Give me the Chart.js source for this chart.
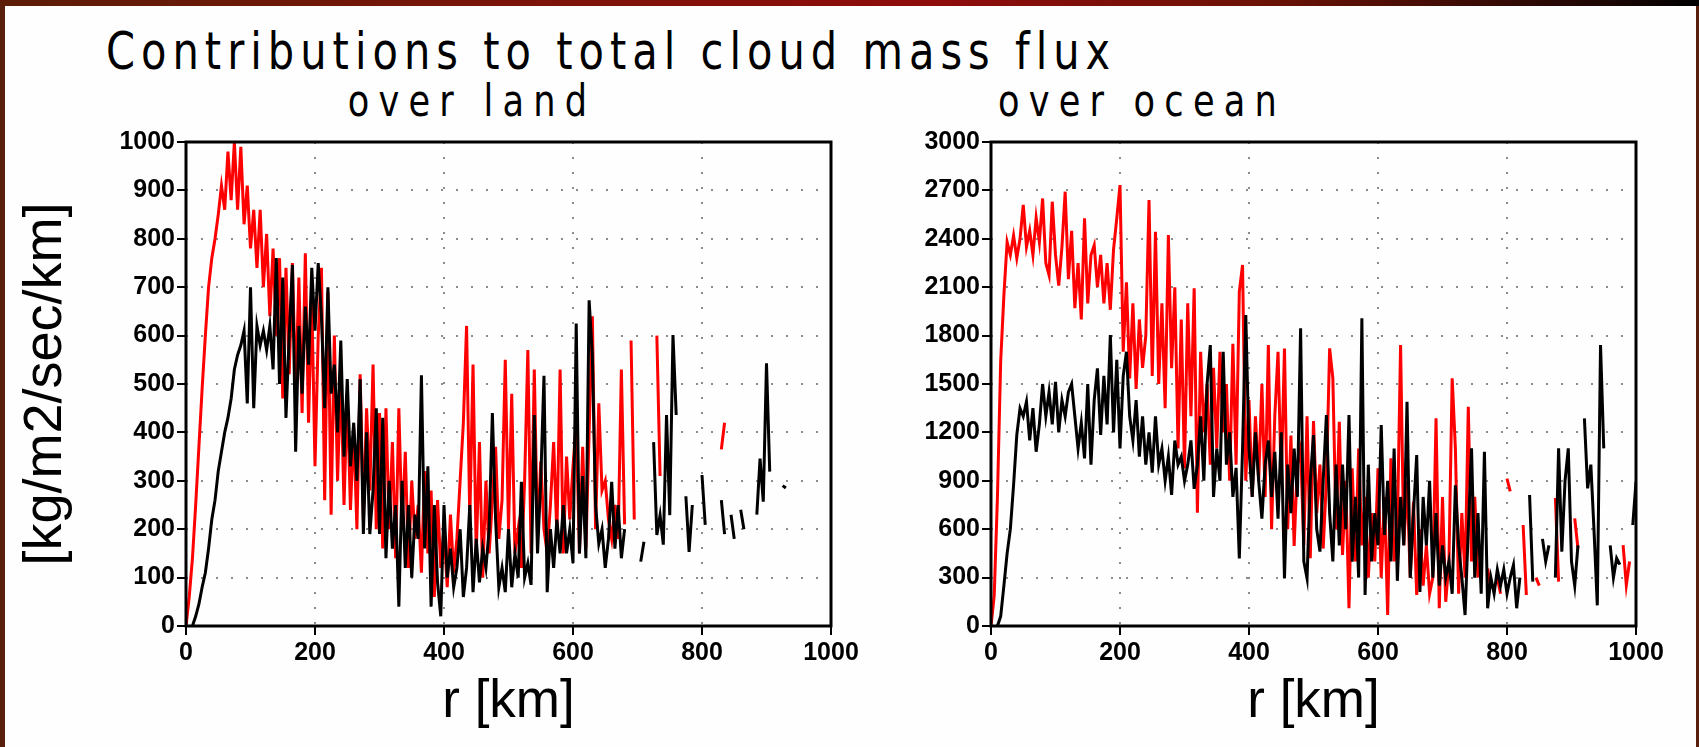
<!DOCTYPE html>
<html>
<head>
<meta charset="utf-8">
<title>Contributions to total cloud mass flux</title>
<script src="https://cdn.jsdelivr.net/npm/chart.js@4.4.1/dist/chart.umd.min.js"></script>
<style>
  html, body { margin: 0; padding: 0; }
  body { width: 1699px; height: 747px; overflow: hidden; position: relative; background: #5a1e0c; }
  #topband { position: absolute; left: 0; top: 0; width: 1699px; height: 6px;
    background: linear-gradient(to right, #5c1d08 0%, #7a1408 30%, #8e0c0c 55%, #6a1206 75%, #1a0604 95%, #000 100%); }
  #sheet { position: absolute; left: 5px; top: 6px; width: 1691px; height: 741px; background: #fefefe; }
  .ttl { position: absolute; color: #000; white-space: nowrap; line-height: 1;
    font-family: "DejaVu Sans", sans-serif; }
  #main { left: 106px; top: 25px; font-size: 52px; letter-spacing: 7.5px;
    transform: scaleX(0.8); transform-origin: 0 0; }
  .sub { top: 79px; width: 400px; text-align: center; font-size: 44px; letter-spacing: 11.5px;
    transform: scaleX(0.8); transform-origin: 50% 0; }
  canvas { position: absolute; top: 125px; }
</style>
</head>
<body>
<div id="topband"></div>
<div id="sheet"></div>
<div id="main" class="ttl">Contributions to total cloud mass flux</div>
<div class="ttl sub" style="left:272px">over land</div>
<div class="ttl sub" style="left:942px">over ocean</div>
<canvas id="landChart" width="900" height="622" style="left:0px"></canvas>
<canvas id="oceanChart" width="869" height="622" style="left:830px"></canvas>
<script>
// radius of each sample (km)
const rKm = [
  0, 5, 10, 15, 20, 25, 30, 35, 40, 45, 50, 55, 60, 65, 70, 75, 80, 85, 90, 95,
  100, 105, 110, 115, 120, 125, 130, 135, 140, 145, 150, 155, 160, 165, 170, 175, 180, 185, 190, 195,
  200, 205, 210, 215, 220, 225, 230, 235, 240, 245, 250, 255, 260, 265, 270, 275, 280, 285, 290, 295,
  300, 305, 310, 315, 320, 325, 330, 335, 340, 345, 350, 355, 360, 365, 370, 375, 380, 385, 390, 395,
  400, 405, 410, 415, 420, 425, 430, 435, 440, 445, 450, 455, 460, 465, 470, 475, 480, 485, 490, 495,
  500, 505, 510, 515, 520, 525, 530, 535, 540, 545, 550, 555, 560, 565, 570, 575, 580, 585, 590, 595,
  600, 605, 610, 615, 620, 625, 630, 635, 640, 645, 650, 655, 660, 665, 670, 675, 680, 685, 690, 695,
  700, 705, 710, 715, 720, 725, 730, 735, 740, 745, 750, 755, 760, 765, 770, 775, 780, 785, 790, 795,
  800, 805, 810, 815, 820, 825, 830, 835, 840, 845, 850, 855, 860, 865, 870, 875, 880, 885, 890, 895,
  900, 905, 910, 915, 920, 925, 930, 935, 940, 945, 950, 955, 960, 965, 970, 975, 980, 985, 990, 995,
  1000
];

// over land, red curve (kg/m2/sec/km)
const landRed = [
  0, 60, 140, 250, 370, 490, 600, 700, 760, 800,
  850, 910, 860, 980, 880, 1000, 860, 990, 830, 910,
  780, 860, 740, 860, 700, 810, 640, 780, 600, 760,
  470, 740, 520, 750, 480, 720, 440, 770, 420, 680,
  330, 600, 740, 260, 690, 230, 600, 300, 520, 250,
  480, 240, 410, 200, 520, 220, 450, 280, 540, 200,
  440, 160, 450, 200, 380, 140, 450, 200, 360, 120,
  300, 180, 250, 110, 320, 150, 280, 60, 260, 120,
  200, 80, 230, 110, 180, 300, 420, 620, 220, 540,
  150, 380, 100, 300, 150, 260, 370, 180, 260, 550,
  200, 480, 150, 200, 120, 300, 570, 150, 530, 180,
  340, 200, 150, 250, 380, 190, 530, 150, 350, 220,
  330, 420, 150, 370, 160, 400, 640, 200, 460, 280,
  300, 220, 180, 250, 180, 530, 210, null, 590, 220,
  null, null, null, null, null, null, 600, 310, null, null,
  null, null, null, null, null, null, null, null, null, null,
  null, null, null, null, null, null, 365, 420, null, null,
  null, null, null, null, null, null, null, null, null, null,
  null, null, null, null, null, null, null, null, null, null,
  null, null, null, null, null, null, null, null, null, null,
  null
];

// over land, black curve
const landBlack = [
  null, null, 0, 20, 45, 80, 110, 160, 220, 260,
  320, 360, 400, 430, 470, 530, 560, 580, 610, 460,
  700, 450, 620, 580, 610, 570, 620, 530, 760, 500,
  720, 430, 600, 746, 360, 620, 480, 660, 540, 740,
  610, 750, 640, 450, 700, 480, 540, 400, 590, 350,
  510, 330, 420, 300, 510, 190, 400, 190, 280, 450,
  190, 430, 140, 300, 160, 250, 40, 300, 120, 250,
  100, 230, 180, 518, 160, 330, 40, 250, 90, 20,
  250, 100, 160, 80, 120, 200, 60, 120, 250, 70,
  180, 90, 160, 120, 200, 440, 220, 80, 120, 70,
  200, 80, 150, 100, 298, 100, 130, 85, 436, 150,
  300, 517, 70, 200, 120, 220, 150, 250, 150, 200,
  130, 625, 150, 310, 140, 673, 560, 250, 170, 200,
  120, 180, 298, 160, 250, 140, 200, null, null, null,
  null, 133, 174, null, null, 380, 188, 229, 168, 436,
  229, 601, 436, null, null, 268, 153, 250, null, null,
  312, 209, null, null, null, null, 260, 190, null, 230,
  180, null, 240, 200, null, null, null, 230, 346, 257,
  543, 319, null, null, null, 290, 285, null, null, null,
  null, null, null, null, null, null, null, null, null, null,
  null
];

// over ocean, red curve
const oceanRed = [
  0, 190, 800, 1640, 2050, 2380, 2300, 2420, 2280, 2400,
  2610, 2350, 2450, 2300, 2530, 2380, 2650, 2250, 2175, 2630,
  2300, 2110, 2350, 2692, 2150, 2450, 1970, 2250, 1900, 2527,
  2000, 2300, 2360, 2100, 2300, 2000, 2250, 1960, 2335, 2527,
  2733, 1700, 2130, 1535, 2000, 1470, 1900, 1600, 1800, 2640,
  1550, 2444, 1500, 2000, 1350, 2423, 1598, 2100, 1100, 1900,
  977, 2000, 1300, 2093, 702, 1700, 1200, 1500, 1000, 1600,
  1100, 1700, 1200, 1500, 900, 1750, 1000, 2072, 2238, 900,
  1400, 800, 1300, 900, 1500, 800, 1741, 600, 1300, 1700,
  900, 1720, 600, 1180, 496, 1000, 1100, 500, 1300, 420,
  1270, 700, 1000, 480, 900, 1721, 1535, 600, 1266, 440,
  900, 110, 977, 400, 1100, 500, 800, 300, 700, 400,
  977, 300, 800, 68, 1039, 400, 600, 1741, 500, 900,
  300, 770, 192, 600, 250, 500, 200, 300, 1287, 110,
  800, 150, 400, 1535, 1100, 200, 700, 300, 1359, 400,
  800, 300, null, null, 357, 233, null, 300, 200, null,
  913, 835, null, null, null, 626, 192, null, null, 300,
  250, null, null, null, null, 793, 275, null, null, null,
  null, 667, 481, null, null, null, null, null, null, null,
  null, null, null, null, null, null, 502, 254, 400, null,
  null
];

// over ocean, black curve
const oceanBlack = [
  null, null, 0, 60, 250, 450, 600, 874, 1184, 1349,
  1300, 1390, 1150, 1350, 1080, 1250, 1500, 1300, 1450, 1250,
  1514, 1200, 1400, 1300, 1450, 1500, 1300, 1100, 1260, 1039,
  1500, 1000, 1400, 1597, 1184, 1550, 1250, 1804, 1200, 1650,
  1100, 1550, 1700, 1300, 1150, 1400, 1050, 1300, 1000, 1200,
  950, 1300, 1000, 1100, 900, 1050, 812, 1150, 1000, 1050,
  900, 1000, 1150, 850, 1000, 1300, 900, 1500, 1741, 800,
  1100, 900, 1700, 1000, 1200, 800, 980, 419, 1100, 1928,
  1100, 800, 1200, 900, 665, 1000, 1150, 800, 1080, 665,
  1200, 295, 1000, 700, 1100, 800, 1845, 400, 295, 900,
  1184, 600, 461, 900, 1308, 700, 400, 1000, 500, 1000,
  600, 1308, 399, 800, 300, 1907, 192, 1000, 400, 700,
  500, 1246, 564, 900, 400, 1100, 280, 800, 500, 1390,
  300, 700, 1060, 211, 800, 500, 900, 300, 700, 250,
  500, 300, 400, 200, 872, 500, 300, 68, 600, 1101,
  300, 700, 200, 1080, 110, 300, 200, 350, 250, 350,
  200, 300, 378, 110, 300, null, null, 812, 275, null,
  null, 540, 400, 500, null, 300, 1101, 461, 900, 1101,
  400, 250, 500, null, 1287, 853, 1000, 585, 128, 1741,
  1101, null, 500, 300, 420, 380, null, null, null, 626,
  895
];

const xTicks = [0, 200, 400, 600, 800, 1000];
const landYTicks = [0, 100, 200, 300, 400, 500, 600, 700, 800, 900, 1000];
const oceanYTicks = [0, 300, 600, 900, 1200, 1500, 1800, 2100, 2400, 2700, 3000];

const tickFont = { family: 'Liberation Sans, Arial, sans-serif', size: 25, weight: 'bold' };
const xTitleFont = { family: 'Liberation Sans, Arial, sans-serif', size: 53, lineHeight: 1 };
const yTitleFont = { family: 'Liberation Sans, Arial, sans-serif', size: 54, lineHeight: 1 };

// box around the plotting area
const framePlugin = {
  id: 'frame',
  afterDatasetsDraw(chart) {
    const { ctx, chartArea: a } = chart;
    ctx.save();
    ctx.strokeStyle = '#000';
    ctx.lineWidth = 3;
    ctx.strokeRect(a.left, a.top, a.right - a.left, a.bottom - a.top);
    ctx.restore();
  }
};

function toPoints(vals) {
  return rKm.map((r, i) => ({ x: r, y: vals[i] }));
}

function gridOpts() {
  return { color: '#8c8c8c', lineWidth: 2, tickColor: '#000', tickWidth: 2, tickLength: 9 };
}

function renderPanel(canvasId, red, black, yTicks, yAxisWidth, padRight, yTitle) {
  const ctx = document.getElementById(canvasId).getContext('2d');

  new Chart(ctx, {
    type: 'line',
    data: {
      datasets: [
        { data: toPoints(black), borderColor: '#000000' },
        { data: toPoints(red), borderColor: '#ff0000' }
      ]
    },
    options: {
      responsive: false,
      animation: false,
      spanGaps: false,
      layout: { padding: { left: 0, right: padRight, top: 17, bottom: 0 } },
      elements: {
        point: { radius: 0 },
        line: { borderWidth: 3, tension: 0, fill: false }
      },
      plugins: { legend: { display: false }, tooltip: { enabled: false } },
      scales: {
        x: {
          type: 'linear',
          min: xTicks[0],
          max: xTicks[xTicks.length - 1],
          afterBuildTicks: s => { s.ticks = xTicks.map(v => ({ value: v })); },
          ticks: { color: '#000', font: tickFont, padding: 3, maxRotation: 0, autoSkip: false,
                   callback: v => String(v) },
          grid: gridOpts(),
          border: { display: false, dash: [2, 13] },
          title: { display: true, text: 'r [km]', color: '#000', font: xTitleFont, padding: { top: 0, bottom: 18 } },
          afterFit: s => { s.height = 121; }
        },
        y: {
          min: yTicks[0],
          max: yTicks[yTicks.length - 1],
          afterBuildTicks: s => { s.ticks = yTicks.map(v => ({ value: v })); },
          ticks: { color: '#000', font: tickFont, padding: 2, autoSkip: false,
                   callback: v => String(v) },
          grid: gridOpts(),
          border: { display: false, dash: [2, 13] },
          title: { display: !!yTitle, text: yTitle || '', color: '#000', font: yTitleFont,
                   padding: { top: 19, bottom: 0 } },
          afterFit: s => { s.width = yAxisWidth; }
        }
      }
    },
    plugins: [framePlugin]
  });
}

renderPanel('landChart', landRed, landBlack, landYTicks, 186, 69, '[kg/m2/sec/km]');
renderPanel('oceanChart', oceanRed, oceanBlack, oceanYTicks, 161, 63, null);
</script>
</body>
</html>
